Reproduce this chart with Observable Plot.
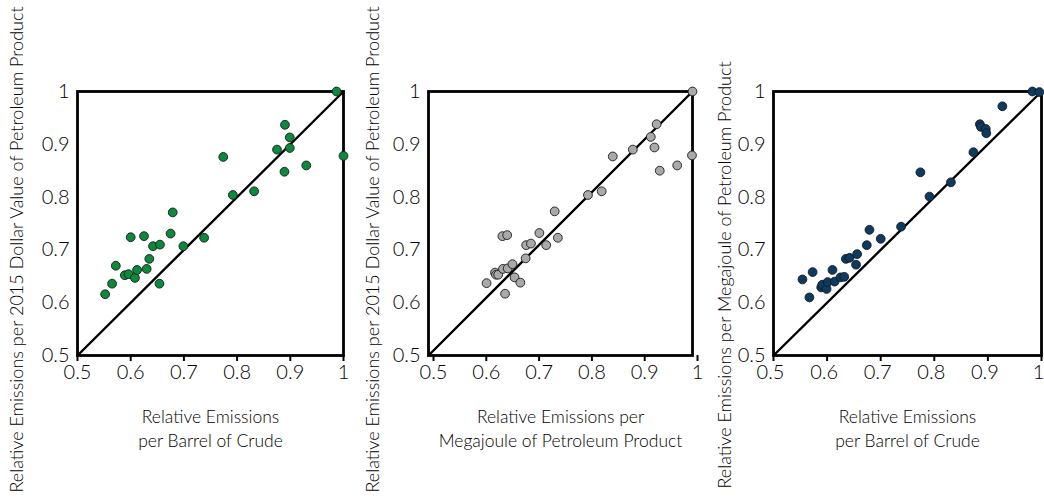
<!DOCTYPE html>
<html>
<head>
<meta charset="utf-8">
<script src="https://cdn.jsdelivr.net/npm/d3@7"></script>
<script src="https://cdn.jsdelivr.net/npm/@observablehq/plot@0.6"></script>
<style>
  html, body { margin: 0; padding: 0; background: #fff; }
  #wrap { position: relative; width: 1044px; height: 499px; overflow: hidden; }
  #wrap > div { position: absolute; top: 0; }
  svg { overflow: visible; }
</style>
</head>
<body>
<div id="wrap"><div id="p1" style="left:0"></div><div id="p2" style="left:350px"></div><div id="p3" style="left:700px"></div></div>
<script>
// Tick values and labels
const tickValues = [0.5, 0.6, 0.7, 0.8, 0.9, 1];
const tickLabels = ["0.5", "0.6", "0.7", "0.8", "0.9", "1"];
const diagonal = [0.5, 1];

// Panel 1: per barrel of crude (x) vs per 2015 dollar value (y)
const p1X = [0.552,0.565,0.572,0.589,0.596,0.600,0.608,0.612,0.625,0.630,0.635,0.642,0.655,0.654,0.675,0.679,0.699,0.738,0.774,0.792,0.832,0.875,0.890,0.899,0.899,0.889,0.930,0.987,1.000];
const p1Y = [0.616,0.636,0.670,0.652,0.654,0.724,0.647,0.662,0.726,0.664,0.683,0.707,0.710,0.636,0.731,0.771,0.707,0.723,0.876,0.804,0.811,0.890,0.937,0.913,0.893,0.848,0.860,1.000,0.878];

// Panel 2: per megajoule (x) vs per 2015 dollar value (y)
const p2X = [0.610,0.626,0.628,0.632,0.640,0.649,0.641,0.650,0.659,0.663,0.645,0.674,0.684,0.685,0.694,0.710,0.723,0.739,0.745,0.802,0.828,0.849,0.887,0.921,0.932,0.928,0.938,0.971,0.999,1.000];
const p2Y = [0.637,0.657,0.653,0.653,0.726,0.728,0.664,0.665,0.673,0.648,0.617,0.638,0.684,0.709,0.712,0.732,0.709,0.773,0.723,0.804,0.811,0.877,0.890,0.914,0.938,0.894,0.850,0.860,0.879,1.000];

// Panel 3: per barrel of crude (x) vs per megajoule (y)
const p3X = [0.554,0.567,0.573,0.589,0.591,0.599,0.601,0.610,0.614,0.625,0.632,0.635,0.642,0.654,0.656,0.674,0.679,0.700,0.738,0.774,0.791,0.831,0.873,0.885,0.887,0.896,0.897,0.927,0.983,0.996];
const p3Y = [0.644,0.610,0.658,0.629,0.634,0.626,0.639,0.662,0.640,0.648,0.649,0.683,0.685,0.672,0.692,0.709,0.738,0.721,0.744,0.847,0.801,0.828,0.885,0.938,0.933,0.929,0.921,0.972,1.000,0.999];

const colors = ["#0b8a3d", "#a9a9a9", "#0b3a63"];
const xLabels = ["Relative Emissions\nper Barrel of Crude", "Relative Emissions per\nMegajoule of Petroleum Product", "Relative Emissions\nper Barrel of Crude"];
const yLabels = ["Relative Emissions per 2015 Dollar Value of Petroleum Product", "Relative Emissions per 2015 Dollar Value of Petroleum Product", "Relative Emissions per Megajoule of Petroleum Product"];

const fmt = d => tickLabels[tickValues.findIndex(t => Math.abs(t - d) < 1e-9)];
const font = "Lato, 'Open Sans', sans-serif";
const ink = "#000";

function panel(xs, ys, color, xLabel, yLabel, o) {
  const data = xs.map((x, i) => ({x, y: ys[i]}));
  return Plot.plot({
    width: o.width, height: 499,
    marginLeft: o.ml, marginRight: o.mr, marginTop: 91, marginBottom: 144,
    style: {fontFamily: font, fontWeight: 300, color: ink, background: "transparent", overflow: "visible"},
    x: {domain: [0.5, 1], label: null},
    y: {domain: [0.5, 1], label: null},
    marks: [
      Plot.line(diagonal, {x: d => d, y: d => d, stroke: "black", strokeWidth: 2.4}),
      Plot.frame({stroke: "black", strokeWidth: 2.8}),
      Plot.dot(data, {x: "x", y: "y", r: 4.4, fill: color, stroke: "#1a1a1a", strokeWidth: 0.9}),
      Plot.axisX({ticks: tickValues, tickFormat: () => "", tickSize: 6, strokeWidth: 2, stroke: "black", dx: o.axDx || 0, label: null}),
      Plot.axisX({ticks: tickValues, tickFormat: fmt, tickSize: 0, tickPadding: 9, fontSize: 20, fill: ink, dx: (o.axDx || 0) + (o.labDx || 0), label: null}),
      Plot.axisY({ticks: tickValues, tickFormat: fmt, tickSize: 0, tickPadding: 8, fontSize: 20, fill: ink, label: null}),
      Plot.text([xLabel], {text: d => d, frameAnchor: "bottom", lineAnchor: "top", dy: 50, lineHeight: 1.4, fontSize: 17.5, fill: ink}),
      Plot.text([yLabel], {text: d => d, frameAnchor: "left", rotate: -90, textAnchor: "start", lineAnchor: "middle", dx: o.ylDx, dy: o.ylDy, fontSize: 18, fill: ink})
    ]
  });
}

document.getElementById("p1").append(panel(p1X, p1Y, colors[0], xLabels[0], yLabels[0], {width: 350, ml: 77, mr: 7, ylDx: -60, ylDy: 269}));
document.getElementById("p2").append(panel(p2X, p2Y, colors[1], xLabels[1], yLabels[1], {width: 350, ml: 78, mr: 8, ylDx: -55, ylDy: 269, axDx: 5}));
document.getElementById("p3").append(panel(p3X, p3Y, colors[2], xLabels[2], yLabels[2], {width: 344, ml: 73, mr: 3, ylDx: -48, ylDy: 265, labDx: -3}));
</script>
</body>
</html>
